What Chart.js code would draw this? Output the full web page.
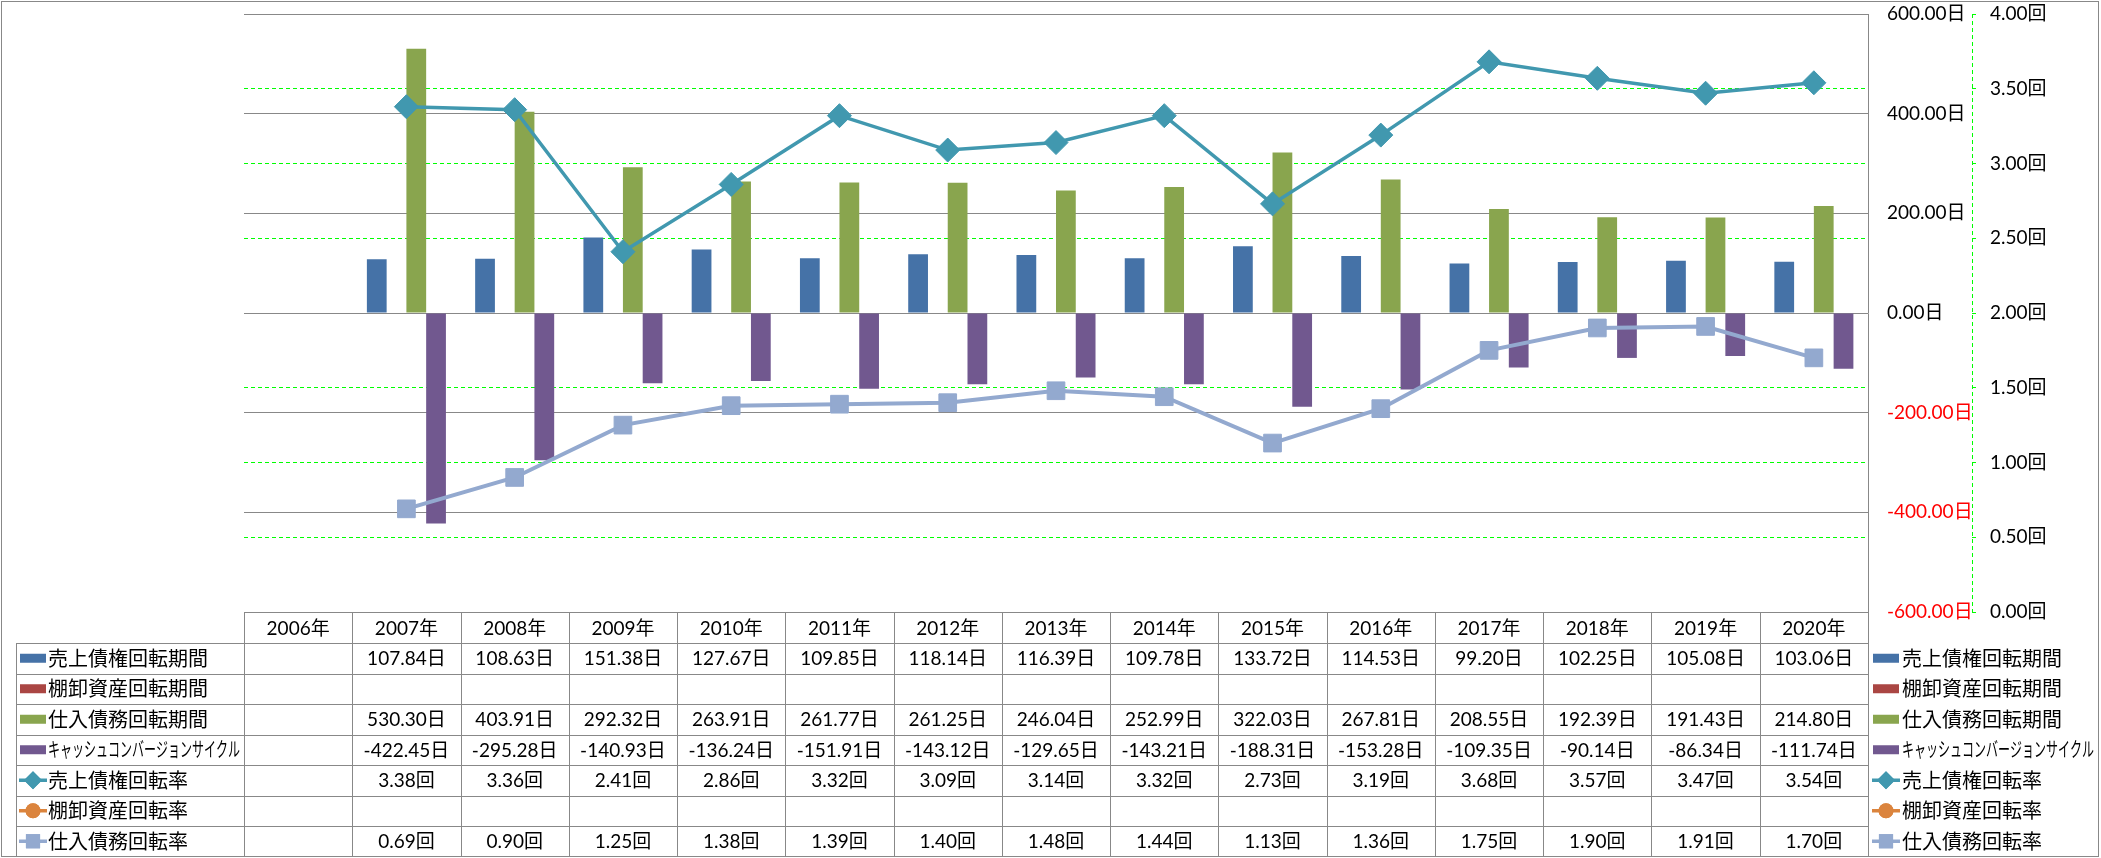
<!DOCTYPE html>
<html>
<head>
<meta charset="utf-8">
<script src="https://cdn.jsdelivr.net/npm/chart.js@4.4.1/dist/chart.umd.min.js"></script>
<style>
  html, body { margin: 0; padding: 0; background: #fff; }
  canvas { display: block; }
</style>
</head>
<body>
<canvas id="chart" width="2101" height="858"></canvas>
<script>
// categories
const years = ['2006年', '2007年', '2008年', '2009年', '2010年', '2011年', '2012年', '2013年',
               '2014年', '2015年', '2016年', '2017年', '2018年', '2019年', '2020年'];

// days (bars, primary axis)
const receivableDays = [null, 107.84, 108.63, 151.38, 127.67, 109.85, 118.14, 116.39, 109.78, 133.72, 114.53, 99.20, 102.25, 105.08, 103.06];
const inventoryDays  = [null, null, null, null, null, null, null, null, null, null, null, null, null, null, null];
const payableDays    = [null, 530.30, 403.91, 292.32, 263.91, 261.77, 261.25, 246.04, 252.99, 322.03, 267.81, 208.55, 192.39, 191.43, 214.80];
const cashCycle      = [null, -422.45, -295.28, -140.93, -136.24, -151.91, -143.12, -129.65, -143.21, -188.31, -153.28, -109.35, -90.14, -86.34, -111.74];

// turnover (lines, secondary axis)
const receivableTurn = [null, 3.38, 3.36, 2.41, 2.86, 3.32, 3.09, 3.14, 3.32, 2.73, 3.19, 3.68, 3.57, 3.47, 3.54];
const inventoryTurn  = [null, null, null, null, null, null, null, null, null, null, null, null, null, null, null];
const payableTurn    = [null, 0.69, 0.90, 1.25, 1.38, 1.39, 1.40, 1.48, 1.44, 1.13, 1.36, 1.75, 1.90, 1.91, 1.70];

const gridGray = '#888888';
const numFont = '19px Lato, "Noto Sans CJK JP", sans-serif';
const jpFont = '20px "Noto Sans CJK JP", sans-serif';

const series = [
  { label: '売上債権回転期間', data: receivableDays, unit: '日', kind: 'bar', color: '#4572A7' },
  { label: '棚卸資産回転期間', data: inventoryDays, unit: '日', kind: 'bar', color: '#AA4643' },
  { label: '仕入債務回転期間', data: payableDays, unit: '日', kind: 'bar', color: '#89A54E' },
  { label: 'キャッシュコンバージョンサイクル', data: cashCycle, unit: '日', kind: 'bar', color: '#71588F', squeeze: 192 },
  { label: '売上債権回転率', data: receivableTurn, unit: '回', kind: 'line', color: '#4198AF', marker: 'rectRot' },
  { label: '棚卸資産回転率', data: inventoryTurn, unit: '回', kind: 'line', color: '#DB843D', marker: 'circle' },
  { label: '仕入債務回転率', data: payableTurn, unit: '回', kind: 'line', color: '#93A9CF', marker: 'rect' }
];

// draws a legend key (bar swatch or line with marker)
function drawKey(ctx, s, x, cy) {
  ctx.save();
  if (s.kind === 'bar') {
    ctx.fillStyle = s.color;
    ctx.fillRect(x, cy - 4.5, 26, 9);
  } else {
    ctx.strokeStyle = s.color;
    ctx.lineWidth = 3.5;
    ctx.beginPath();
    ctx.moveTo(x - 1, cy);
    ctx.lineTo(x + 27, cy);
    ctx.stroke();
    ctx.fillStyle = s.color;
    const r = s.marker === 'rectRot' ? 9 : (s.marker === 'rect' ? 10 : 7.5);
    Chart.helpers.drawPoint(ctx, { pointStyle: s.marker, radius: r, rotation: 0, borderWidth: 0 }, x + 13, cy);
    ctx.fill();
  }
  ctx.restore();
}

const tablePlugin = {
  id: 'dataTable',
  afterDraw(chart) {
    const ctx = chart.ctx;
    const area = chart.chartArea;
    const n = years.length;
    const colW = (area.right - area.left) / n;
    const top = area.bottom;
    const headBottom = top + 31;
    const rowH = (856.5 - headBottom) / series.length;
    const tableLeft = 16;

    ctx.save();
    ctx.strokeStyle = gridGray;
    ctx.lineWidth = 1;
    ctx.beginPath();
    ctx.moveTo(area.left, Math.round(top) + 0.5);
    ctx.lineTo(area.right, Math.round(top) + 0.5);
    for (let r = 0; r < series.length; r++) {
      const y = Math.round(headBottom + r * rowH) + 0.5;
      ctx.moveTo(tableLeft, y);
      ctx.lineTo(area.right, y);
    }
    for (let i = 0; i <= n; i++) {
      const x = Math.round(area.left + i * colW) + 0.5;
      ctx.moveTo(x, top);
      ctx.lineTo(x, 857);
    }
    ctx.moveTo(tableLeft + 0.5, headBottom);
    ctx.lineTo(tableLeft + 0.5, 857);
    ctx.stroke();

    // header labels
    ctx.fillStyle = '#000';
    ctx.textAlign = 'center';
    ctx.textBaseline = 'middle';
    ctx.font = numFont;
    years.forEach((y, i) => {
      ctx.fillText(y, area.left + (i + 0.5) * colW, (top + headBottom) / 2 + 1);
    });

    // rows
    series.forEach((s, r) => {
      const cy = headBottom + (r + 0.5) * rowH;
      ctx.font = numFont;
      ctx.textAlign = 'center';
      s.data.forEach((v, i) => {
        if (v == null) return;
        ctx.fillText(v.toFixed(2) + s.unit, area.left + (i + 0.5) * colW, cy + 1);
      });
      drawKey(ctx, s, 20, cy);
      ctx.fillStyle = '#000';
      ctx.font = jpFont;
      ctx.textAlign = 'left';
      if (s.squeeze) ctx.fillText(s.label, 48, cy, s.squeeze);
      else ctx.fillText(s.label, 48, cy);
      // legend on the right
      drawKey(ctx, s, 1873, cy);
      ctx.fillStyle = '#000';
      if (s.squeeze) ctx.fillText(s.label, 1902, cy, s.squeeze);
      else ctx.fillText(s.label, 1902, cy);
    });

    // dashed line for the secondary axis
    const y2 = chart.scales.y2;
    ctx.strokeStyle = '#00FF00';
    ctx.setLineDash([4, 3]);
    ctx.beginPath();
    ctx.moveTo(Math.round(y2.left) + 0.5, area.top);
    ctx.lineTo(Math.round(y2.left) + 0.5, area.bottom);
    ctx.stroke();
    ctx.setLineDash([]);

    // outer frame
    ctx.strokeStyle = gridGray;
    ctx.strokeRect(1.5, 1.5, 2097, 855);
    ctx.restore();
  }
};

const datasets = series.map(s => {
  if (s.kind === 'bar') {
    return {
      type: 'bar',
      label: s.label,
      data: s.data,
      backgroundColor: s.color,
      yAxisID: 'y',
      order: 2,
      barPercentage: 1.0,
      categoryPercentage: 0.73
    };
  }
  return {
    type: 'line',
    label: s.label,
    data: s.data,
    borderColor: s.color,
    backgroundColor: s.color,
    borderWidth: s.marker === 'rectRot' ? 3.5 : 4,
    pointStyle: s.marker,
    pointRadius: s.marker === 'rectRot' ? 12 : 12.5,
    pointBorderWidth: 1,
    pointBackgroundColor: s.color,
    pointBorderColor: s.color,
    yAxisID: 'y2',
    order: 1,
    tension: 0
  };
});

// fixed axis width, no extra padding from tick labels
const fixWidth = w => scale => {
  scale.width = w;
  scale.paddingTop = 0;
  scale.paddingBottom = 0;
};

new Chart(document.getElementById('chart'), {
  type: 'bar',
  data: { labels: years, datasets: datasets },
  options: {
    responsive: false,
    animation: false,
    layout: { autoPadding: false, padding: { left: 244, top: 14, right: 0, bottom: 246 } },
    plugins: {
      legend: { display: false },
      tooltip: { enabled: false }
    },
    scales: {
      x: { display: false },
      y: {
        position: 'right',
        min: -600,
        max: 600,
        ticks: {
          stepSize: 200,
          padding: 19,
          font: { family: 'Lato, "Noto Sans CJK JP", sans-serif', size: 19 },
          color: ctx => ctx.tick.value < 0 ? '#FF0000' : '#000000',
          callback: v => v.toFixed(2) + '日'
        },
        grid: { color: gridGray, drawTicks: false },
        border: { display: true, color: gridGray },
        afterFit: fixWidth(104)
      },
      y2: {
        position: 'right',
        min: 0,
        max: 4,
        ticks: {
          stepSize: 0.5,
          padding: 14,
          font: { family: 'Lato, "Noto Sans CJK JP", sans-serif', size: 19 },
          color: '#000000',
          callback: v => v.toFixed(2) + '回'
        },
        grid: {
          color: ctx => (ctx.tick && [0, 2, 4].includes(ctx.tick.value)) ? 'rgba(0,0,0,0)' : '#00FF00',
          tickColor: '#00FF00',
          tickLength: 4
        },
        // in v4 border.dash sets the dash of the grid lines
        border: { display: false, dash: [4, 3] },
        afterFit: fixWidth(129)
      }
    }
  },
  plugins: [tablePlugin]
});
</script>
</body>
</html>
